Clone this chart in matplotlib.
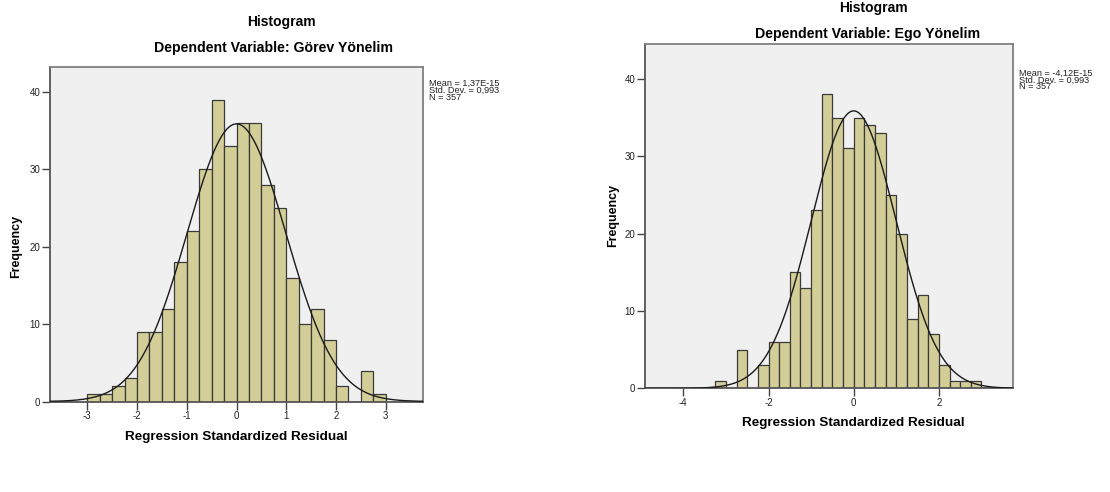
import numpy as np
import matplotlib.pyplot as plt
plt.rcParams.update({'font.family': ['Liberation Sans', 'DejaVu Sans']})

# bin counts (bin width 0.25)
gorev_start = -3.0
gorev_counts = [1, 1, 2, 3, 9, 9, 12, 18, 22, 30, 39, 33,
                36, 36, 28, 25, 16, 10, 12, 8, 2, 0, 4, 1]
ego_start = -3.25
ego_counts = [1, 0, 5, 0, 3, 6, 6, 15, 13, 23, 38, 35, 31,
              35, 34, 33, 25, 20, 9, 12, 7, 3, 1, 1, 1]
bin_w = 0.25

n_obs = 357
std_dev = 0.993
gorev_stats = ['Mean = 1,37E-15', 'Std. Dev. = 0,993', 'N = 357']
ego_stats = ['Mean = -4,12E-15', 'Std. Dev. = 0,993', 'N = 357']

W, H = 1110, 492
fig = plt.figure(figsize=(W / 100, H / 100), dpi=100)

bar_col = '#d3ce97'
face_col = '#f0f0f0'


def px(x, y):
    return x / W, 1 - y / H


def hist_panel(rect, start, counts, xlim, ylim, xticks):
    ax = fig.add_axes(rect)
    ax.set_facecolor(face_col)
    lefts = start + bin_w * np.arange(len(counts))
    ax.bar(lefts, counts, width=bin_w, align='edge', color=bar_col,
           edgecolor='#3a3a3a', linewidth=0.9, zorder=2)
    # fitted normal curve
    xs = np.linspace(xlim[0], xlim[1], 400)
    ys = n_obs * bin_w / (std_dev * np.sqrt(2 * np.pi)) * np.exp(-0.5 * (xs / std_dev) ** 2)
    ax.plot(xs, ys, color='#1a1a1a', linewidth=1.0, zorder=3)
    ax.set_xlim(xlim)
    ax.set_ylim(ylim)
    ax.set_xticks(xticks)
    ax.set_xticklabels([str(t) for t in xticks])
    ax.set_yticks([0, 10, 20, 30, 40])
    ax.tick_params(labelsize=7, length=6, width=1.0, color='#444444',
                   labelcolor='#222222', pad=1)
    for s in ax.spines.values():
        s.set_color('#808080')
        s.set_linewidth(1.3)
    ax.spines['left'].set_color('#555555')
    ax.spines['bottom'].set_color('#555555')
    return ax


# left panel: axes box 50..423 x, 67..401 y
ax1 = hist_panel([50 / W, 1 - 401.5 / H, 373 / W, 334.5 / H],
                 gorev_start, gorev_counts, (-3.75, 3.75), (0, 43.2),
                 [-3, -2, -1, 0, 1, 2, 3])
# right panel: axes box 645..1013 x, 44..388 y
ax2 = hist_panel([645 / W, 1 - 388.3 / H, 368 / W, 344.3 / H],
                 ego_start, ego_counts, (-4.9, 3.74), (0, 44.5),
                 [-4, -2, 0, 2])

# titles
fig.text(*px(281, 22), 'Histogram', ha='center', va='center',
         fontsize=10, fontweight='bold')
fig.text(*px(273, 48), 'Dependent Variable: Görev Yönelim', ha='center',
         va='center', fontsize=10.2, fontweight='bold')
fig.text(*px(873, 8), 'Histogram', ha='center', va='center',
         fontsize=10, fontweight='bold')
fig.text(*px(868, 34), 'Dependent Variable: Ego Yönelim', ha='center',
         va='center', fontsize=10.2, fontweight='bold')

# axis labels
fig.text(*px(236, 437), 'Regression Standardized Residual', ha='center',
         va='center', fontsize=9.7, fontweight='bold')
fig.text(*px(853, 423), 'Regression Standardized Residual', ha='center',
         va='center', fontsize=9.7, fontweight='bold')
fig.text(*px(16, 246), 'Frequency', ha='center', va='center',
         rotation=90, fontsize=9, fontweight='bold')
fig.text(*px(613, 215), 'Frequency', ha='center', va='center',
         rotation=90, fontsize=9, fontweight='bold')

# stats boxes
for i, line in enumerate(gorev_stats):
    fig.text(*px(429, 83 + i * 7), line, ha='left', va='center',
             fontsize=6.6, color='#222222')
for i, line in enumerate(ego_stats):
    fig.text(*px(1019, 73 + i * 7), line, ha='left', va='center',
             fontsize=6.6, color='#222222')

fig.savefig('out.png', dpi=100)
